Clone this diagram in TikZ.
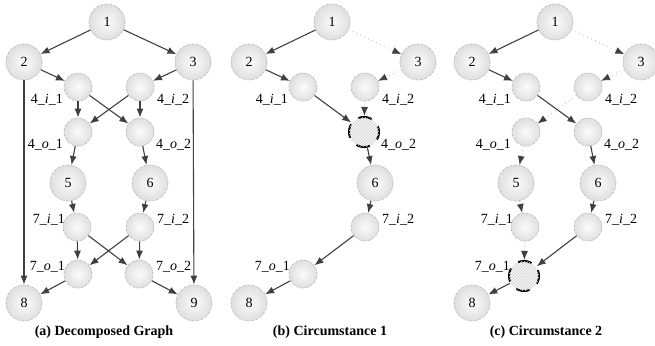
\documentclass[tikz,border=0pt]{standalone}
\usepackage{fontspec}
\setmainfont{Liberation Serif}
\usetikzlibrary{arrows.meta,patterns}

\tikzset{
  bignode/.style={circle, minimum size=36pt, inner sep=0pt, draw=gray!55,
    line width=0.7pt, dash pattern=on 2pt off 1pt on 0.6pt off 1pt,
    inner color=gray!3, outer color=gray!25, font=\fontsize{14}{16}\selectfont},
  smallnode/.style={bignode, minimum size=28pt},
  hotnode/.style={circle, minimum size=30pt, inner sep=0pt, draw=black,
    line width=2pt, dash pattern=on 14pt off 9.5pt, dash phase=8pt, fill=gray!6,
    postaction={pattern=north east lines, pattern color=gray!40}},
  lab/.style={font=\fontsize{14}{16}\selectfont, inner sep=0pt},
  capt/.style={font=\fontsize{14}{16}\selectfont\bfseries, inner sep=0pt},
  lnk/.style={draw=black!75, line width=1.1pt, -{Latex[length=9pt,width=7pt]}},
  lnkdot/.style={draw=gray!55, line width=0.9pt, dash pattern=on 0.8pt off 3.5pt,
    -{Latex[length=9pt,width=7pt,color=black!75]}},
}

\begin{document}
\begin{tikzpicture}[x=1pt, y=-1pt]
  \useasboundingbox (0,0) rectangle (655,345);

  % (a) decomposed graph
  \begin{scope}
    \draw
      (107,22) node[bignode] (a1) {1}
      (24,62) node[bignode] (a2) {2}
      (193,62) node[bignode] (a3) {3}
      (78,87) node[smallnode] (a4i1) {}
      (140,87) node[smallnode] (a4i2) {}
      (78,132) node[smallnode] (a4o1) {}
      (140,132) node[smallnode] (a4o2) {}
      (68,183) node[bignode] (a5) {5}
      (150,183) node[bignode] (a6) {6}
      (77,227) node[smallnode] (a7i1) {}
      (140,227) node[smallnode] (a7i2) {}
      (78,274) node[smallnode] (a7o1) {}
      (139,274) node[smallnode] (a7o2) {}
      (24,303) node[bignode] (a8) {8}
      (194,303) node[bignode] (a9) {9};
    \node[lab, anchor=east] (a4i1t) at (63,100) {4\_\textit{i}\_1};
    \node[lab, anchor=west] (a4i2t) at (157,100) {4\_\textit{i}\_2};
    \node[lab, anchor=east] (a4o1t) at (63,145) {4\_\textit{o}\_1};
    \node[lab, anchor=west] (a4o2t) at (156,145) {4\_\textit{o}\_2};
    \node[lab, anchor=east] (a7i1t) at (65,220) {7\_\textit{i}\_1};
    \node[lab, anchor=west] (a7i2t) at (157,220) {7\_\textit{i}\_2};
    \node[lab, anchor=east] (a7o1t) at (65,267) {7\_\textit{o}\_1};
    \node[lab, anchor=west] (a7o2t) at (156,267) {7\_\textit{o}\_2};
    \node[capt] (acap) at (104,332) {(a) Decomposed Graph};
    \begin{scope}[lnk]
      \draw (a1) to (a2);
      \draw (a1) to (a3);
      \draw (a2) to (a4i1);
      \draw (a3) to (a4i2);
      \draw (a4i1) to (a4o1);
      \draw (a4i1) to (a4o2);
      \draw (a4i2) to (a4o1);
      \draw (a4i2) to (a4o2);
      \draw (a4o1) to (a5);
      \draw (a4o2) to (a6);
      \draw (a5) to (a7i1);
      \draw (a6) to (a7i2);
      \draw (a7i1) to (a7o1);
      \draw (a7i1) to (a7o2);
      \draw (a7i2) to (a7o1);
      \draw (a7i2) to (a7o2);
      \draw (a7o1) to (a8);
      \draw (a7o2) to (a9);
      \draw (a2) to (a8);
      \draw (a3) to (a9);
    \end{scope}
  \end{scope}

  % (b) circumstance 1
  \begin{scope}[xshift=225pt]
    \draw
      (107,22) node[bignode] (b1) {1}
      (24,62) node[bignode] (b2) {2}
      (193,62) node[bignode] (b3) {3}
      (78,87) node[smallnode] (b4i1) {}
      (140,87) node[smallnode] (b4i2) {}
      (139,132) node[hotnode] (b4o2) {}
      (150,183) node[bignode] (b6) {6}
      (140,227) node[smallnode] (b7i2) {}
      (78,274) node[smallnode] (b7o1) {}
      (24,303) node[bignode] (b8) {8};
    \node[lab, anchor=east] (b4i1t) at (63,100) {4\_\textit{i}\_1};
    \node[lab, anchor=west] (b4i2t) at (157,100) {4\_\textit{i}\_2};
    \node[lab, anchor=west] (b4o2t) at (156,145) {4\_\textit{o}\_2};
    \node[lab, anchor=west] (b7i2t) at (157,220) {7\_\textit{i}\_2};
    \node[lab, anchor=east] (b7o1t) at (65,267) {7\_\textit{o}\_1};
    \node[capt] (bcap) at (105,332) {(b) Circumstance 1};
    \begin{scope}[lnk]
      \draw (b1) to (b2);
      \draw (b2) to (b4i1);
      \draw (b4i1) to (b4o2);
      \draw (b4o2) to (b6);
      \draw (b6) to (b7i2);
      \draw (b7i2) to (b7o1);
      \draw (b7o1) to (b8);
    \end{scope}
    \begin{scope}[lnkdot]
      \draw (b1) to (b3);
      \draw (b3) to (b4i2);
      \draw (b4i2) to (b4o2);
    \end{scope}
  \end{scope}

  % (c) circumstance 2
  \begin{scope}[xshift=448pt]
    \draw
      (107,22) node[bignode] (c1) {1}
      (24,62) node[bignode] (c2) {2}
      (193,62) node[bignode] (c3) {3}
      (78,87) node[smallnode] (c4i1) {}
      (140,87) node[smallnode] (c4i2) {}
      (78,132) node[smallnode] (c4o1) {}
      (140,132) node[smallnode] (c4o2) {}
      (68,183) node[bignode] (c5) {5}
      (150,183) node[bignode] (c6) {6}
      (77,227) node[smallnode] (c7i1) {}
      (140,227) node[smallnode] (c7i2) {}
      (76,276) node[hotnode] (c7o1) {}
      (24,303) node[bignode] (c8) {8};
    \node[lab, anchor=east] (c4i1t) at (63,100) {4\_\textit{i}\_1};
    \node[lab, anchor=west] (c4i2t) at (157,100) {4\_\textit{i}\_2};
    \node[lab, anchor=east] (c4o1t) at (63,145) {4\_\textit{o}\_1};
    \node[lab, anchor=west] (c4o2t) at (156,145) {4\_\textit{o}\_2};
    \node[lab, anchor=east] (c7i1t) at (65,220) {7\_\textit{i}\_1};
    \node[lab, anchor=west] (c7i2t) at (157,220) {7\_\textit{i}\_2};
    \node[lab, anchor=east] (c7o1t) at (62,267) {7\_\textit{o}\_1};
    \node[capt] (ccap) at (98,332) {(c) Circumstance 2};
    \begin{scope}[lnk]
      \draw (c1) to (c2);
      \draw (c2) to (c4i1);
      \draw (c4i1) to (c4o2);
      \draw (c4o2) to (c6);
      \draw (c6) to (c7i2);
      \draw (c7i2) to (c7o1);
      \draw (c7o1) to (c8);
    \end{scope}
    \begin{scope}[lnkdot]
      \draw (c1) to (c3);
      \draw (c3) to (c4i2);
      \draw (c4i2) to (c4o1);
      \draw (c4o1) to (c5);
      \draw (c5) to (c7i1);
      \draw (c7i1) to (c7o1);
    \end{scope}
  \end{scope}
\end{tikzpicture}
\end{document}
